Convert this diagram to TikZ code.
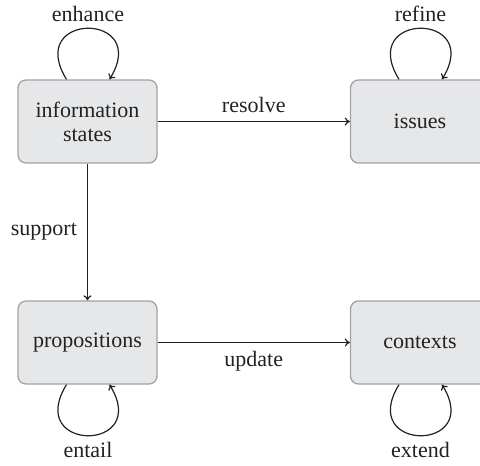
\documentclass[tikz,border=0pt]{standalone}
\usepackage{fontspec}
\setmainfont{Liberation Serif}
\usetikzlibrary{arrows.meta}
\definecolor{boxfill}{HTML}{E6E7E9}
\definecolor{boxline}{HTML}{A3A3A5}
\definecolor{ink}{HTML}{222222}
\begin{document}
\begin{tikzpicture}[x=1pt,y=-1pt,
  state/.style={draw=boxline,fill=boxfill,line width=1.3pt,rounded corners=8pt,
    minimum width=139pt,minimum height=83pt,align=center,inner sep=0pt,
    font=\fontsize{22}{24}\selectfont,text=ink},
  lbl/.style={font=\fontsize{22}{24}\selectfont,text=ink,inner sep=0pt},
  conn/.style={draw=ink,line width=1.2pt,-{To[length=5pt,width=8pt]}}]
\useasboundingbox (0,0) rectangle (480,466);
\node[state] (is) at (87.5,121.5) {information\\states};
\node[state] (iss) at (420,121.5) {issues};
\node[state] (pr) at (87.5,342.5) {propositions};
\node[state] (ct) at (420,342.5) {contexts};
\draw[conn] (is) -- (iss) node[lbl,midway,above=8pt] {resolve};
\draw[conn] (pr) -- (ct) node[lbl,midway,below=8pt] {update};
\draw[conn] (is) -- (pr) node[lbl,midway,left=10pt] {support};
\draw[conn] ([xshift=-21pt]is.north) .. controls +(-42,-68) and +(42,-68) .. ([xshift=22pt]is.north)
  node[lbl,pos=0.5,above=6pt] {enhance};
\draw[conn] ([xshift=-21pt]iss.north) .. controls +(-42,-68) and +(42,-68) .. ([xshift=22pt]iss.north)
  node[lbl,pos=0.5,above=6pt] {refine};
\draw[conn] ([xshift=-21pt]pr.south) .. controls +(-42,68) and +(42,68) .. ([xshift=22pt]pr.south)
  node[lbl,pos=0.5,below=6pt] {entail};
\draw[conn] ([xshift=-21pt]ct.south) .. controls +(-42,68) and +(42,68) .. ([xshift=22pt]ct.south)
  node[lbl,pos=0.5,below=6pt] {extend};
\end{tikzpicture}
\end{document}
